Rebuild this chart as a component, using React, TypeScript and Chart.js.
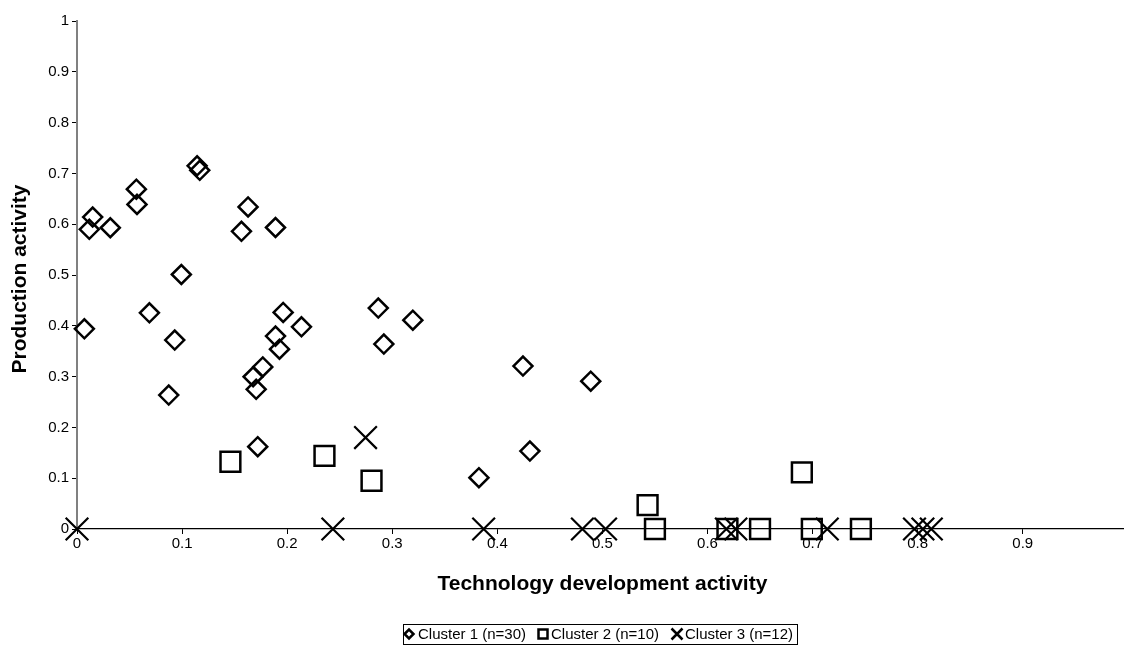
import React, { useEffect, useRef } from "react";
import { Chart, registerables } from "chart.js";

Chart.register(...registerables);

const seriesNames = ["Cluster 1 (n=30)", "Cluster 2 (n=10)", "Cluster 3 (n=12)"];

const cluster1X = [0.007, 0.0117, 0.0149, 0.0317, 0.0565, 0.0571, 0.0689, 0.0873, 0.093, 0.0993, 0.1143, 0.1168, 0.1565, 0.1628, 0.1889, 0.1962, 0.2136, 0.1889, 0.1927, 0.1768, 0.1676, 0.1705, 0.172, 0.2867, 0.3196, 0.292, 0.3825, 0.4244, 0.431, 0.4889];
const cluster1Y = [0.394, 0.59, 0.614, 0.593, 0.669, 0.639, 0.4255, 0.2636, 0.372, 0.501, 0.715, 0.706, 0.586, 0.634, 0.5935, 0.4263, 0.398, 0.3797, 0.354, 0.319, 0.2997, 0.275, 0.162, 0.435, 0.411, 0.364, 0.101, 0.3207, 0.1535, 0.291];

const cluster2X = [0.146, 0.2355, 0.2803, 0.543, 0.55, 0.619, 0.65, 0.6898, 0.6993, 0.746];
const cluster2Y = [0.1324, 0.144, 0.095, 0.047, 0, 0, 0, 0.1115, 0, 0];

const cluster3X = [0, 0.2435, 0.2746, 0.387, 0.481, 0.503, 0.618, 0.627, 0.714, 0.797, 0.805, 0.813];
const cluster3Y = [0, 0, 0.18, 0, 0, 0, 0, 0, 0, 0, 0, 0];

const xTickLabels = ["0", "0.1", "0.2", "0.3", "0.4", "0.5", "0.6", "0.7", "0.8", "0.9", "1"];
const yTickLabels = ["0", "0.1", "0.2", "0.3", "0.4", "0.5", "0.6", "0.7", "0.8", "0.9", "1"];

const xTitle = "Technology development activity";
const yTitle = "Production activity";

const FONT = "'Liberation Sans', Arial, sans-serif";

function toPoints(xs: number[], ys: number[]) {
  return xs.map((x, i) => ({ x, y: ys[i] }));
}

const decorPlugin = {
  id: "decor",
  afterDraw(chart: any) {
    const ctx = chart.ctx as CanvasRenderingContext2D;
    const area = chart.chartArea;
    ctx.save();
    ctx.fillStyle = "#000";
    ctx.font = `bold 21px ${FONT}`;
    ctx.textAlign = "center";
    ctx.textBaseline = "middle";
    ctx.fillText(xTitle, (area.left + area.right) / 2, 584);
    ctx.save();
    ctx.translate(20, 279);
    ctx.rotate(-Math.PI / 2);
    ctx.fillText(yTitle, 0, 0);
    ctx.restore();

    // legend
    const lx = 403, ly = 624, lw = 394, lh = 20;
    ctx.fillStyle = "#fff";
    ctx.fillRect(lx, ly, lw, lh);
    ctx.strokeStyle = "#000";
    ctx.lineWidth = 1;
    ctx.strokeRect(lx + 0.5, ly + 0.5, lw, lh);
    const cy = ly + 10;
    ctx.lineWidth = 2.5;
    ctx.strokeStyle = "#000";
    ctx.beginPath();
    ctx.moveTo(409 - 4.5, cy);
    ctx.lineTo(409, cy - 4.5);
    ctx.lineTo(409 + 4.5, cy);
    ctx.lineTo(409, cy + 4.5);
    ctx.closePath();
    ctx.stroke();
    ctx.strokeRect(543 - 4.5, cy - 4.5, 9, 9);
    ctx.beginPath();
    ctx.moveTo(677 - 5.5, cy - 5.5);
    ctx.lineTo(677 + 5.5, cy + 5.5);
    ctx.moveTo(677 + 5.5, cy - 5.5);
    ctx.lineTo(677 - 5.5, cy + 5.5);
    ctx.stroke();
    ctx.fillStyle = "#000";
    ctx.font = `15px ${FONT}`;
    ctx.textAlign = "left";
    ctx.textBaseline = "middle";
    ctx.fillText(seriesNames[0], 418, cy + 1);
    ctx.fillText(seriesNames[1], 551, cy + 1);
    ctx.fillText(seriesNames[2], 685, cy + 1);
    ctx.restore();
  },
};

export default function App() {
  const canvasRef = useRef<HTMLCanvasElement | null>(null);

  useEffect(() => {
    const canvas = canvasRef.current;
    if (!canvas) return;
    const chart = new Chart(canvas, {
      type: "scatter",
      data: {
        datasets: [
          {
            label: seriesNames[0],
            data: toPoints(cluster1X, cluster1Y),
            pointStyle: "rectRot",
            pointRadius: 9.5,
            pointBorderWidth: 2.5,
            borderColor: "#000",
            backgroundColor: "transparent",
            pointBackgroundColor: "transparent",
            pointBorderColor: "#000",
            clip: false,
          },
          {
            label: seriesNames[1],
            data: toPoints(cluster2X, cluster2Y),
            pointStyle: "rect",
            pointRadius: 14,
            pointBorderWidth: 2.5,
            borderColor: "#000",
            backgroundColor: "transparent",
            pointBackgroundColor: "transparent",
            pointBorderColor: "#000",
            clip: false,
          },
          {
            label: seriesNames[2],
            data: toPoints(cluster3X, cluster3Y),
            pointStyle: "crossRot",
            pointRadius: 16,
            pointBorderWidth: 2.2,
            borderColor: "#000",
            backgroundColor: "transparent",
            pointBackgroundColor: "transparent",
            pointBorderColor: "#000",
            clip: false,
          },
        ],
      },
      options: {
        responsive: false,
        animation: false,
        devicePixelRatio: 1,
        layout: { padding: { top: 21, right: 13, left: 0, bottom: 0 } },
        plugins: {
          legend: { display: false },
          tooltip: { enabled: false },
          title: { display: false },
        },
        scales: {
          x: {
            type: "linear",
            min: 0,
            max: 1,
            afterFit: (scale: any) => {
              scale.height = 119;
            },
            afterBuildTicks: (scale: any) => {
              scale.ticks = xTickLabels.map((_, i) => ({ value: i / 10 }));
            },
            ticks: {
              autoSkip: false,
              maxRotation: 0,
              padding: 1,
              color: "#000",
              font: { family: FONT, size: 15 },
              callback: (_v: any, i: number) => xTickLabels[i],
            },
            grid: {
              display: true,
              drawOnChartArea: false,
              drawTicks: true,
              tickLength: 5,
              color: "#000",
              lineWidth: 1,
            },
            border: { display: true, color: "#000", width: 1.2 },
          },
          y: {
            type: "linear",
            min: 0,
            max: 1,
            afterFit: (scale: any) => {
              scale.width = 77;
            },
            afterBuildTicks: (scale: any) => {
              scale.ticks = yTickLabels.map((_, i) => ({ value: i / 10 }));
            },
            ticks: {
              autoSkip: false,
              padding: 3,
              color: "#000",
              font: { family: FONT, size: 15 },
              callback: (_v: any, i: number) => yTickLabels[i],
            },
            grid: {
              display: true,
              drawOnChartArea: false,
              drawTicks: true,
              tickLength: 5,
              color: "#000",
              lineWidth: 1,
            },
            border: { display: true, color: "#808080", width: 2 },
          },
        },
      },
      plugins: [decorPlugin],
    } as any);
    return () => chart.destroy();
  }, []);

  return (
    <div style={{ position: "fixed", left: 0, top: 0, width: 1146, height: 648, background: "#fff" }}>
      <canvas ref={canvasRef} width={1146} height={648} style={{ width: 1146, height: 648, display: "block" }} />
    </div>
  );
}
